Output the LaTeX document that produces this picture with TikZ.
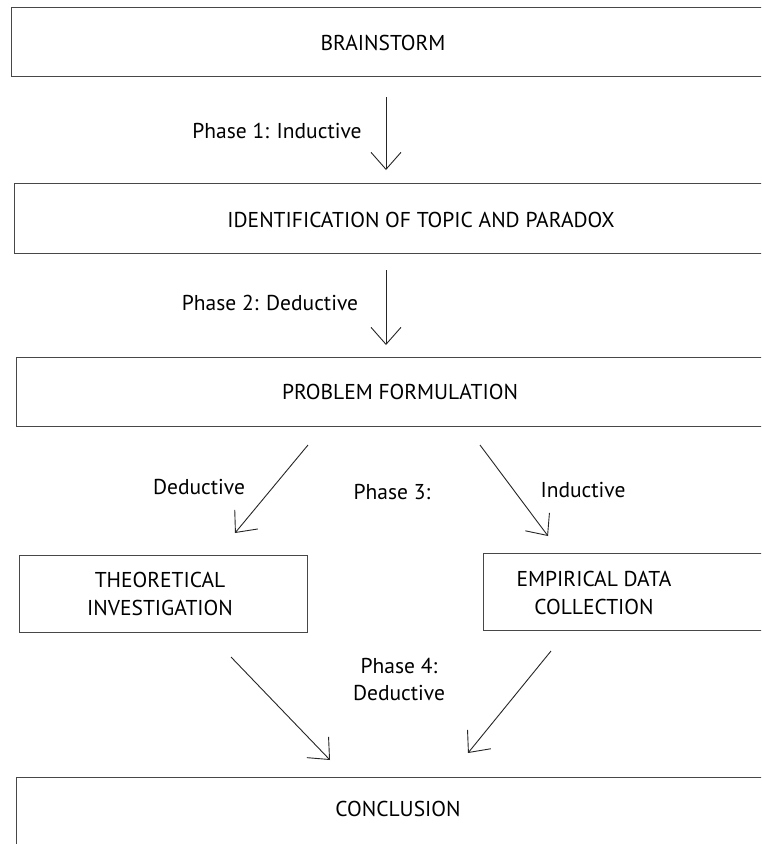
\documentclass[tikz,border=0pt]{standalone}
\usepackage{fontspec}
\setmainfont{PT Sans}
\usetikzlibrary{arrows.meta}
\begin{document}
\begin{tikzpicture}[x=1pt,y=-1pt,
  boxline/.style={draw=black!72,line width=1.3pt},
  mainbox/.style={boxline,rectangle,anchor=north west,inner sep=0pt},
  txt/.style={font=\fontsize{21.5}{28}\selectfont,inner sep=0pt,align=center},
  lbl/.style={font=\fontsize{21.5}{27}\selectfont,inner sep=0pt,align=center},
  flow/.style={draw=black!85,line width=0.9pt,-{Straight Barb[length=17,width=30,line width=0.9pt]}}]
\useasboundingbox (0,0) rectangle (761,844);
\clip (0,0) rectangle (761,844);
\fill[white] (0,0) rectangle (761,844);
% boxes
\node[mainbox,minimum width=800,minimum height=69] (b1) at (11,7) {};
\node[mainbox,minimum width=800,minimum height=70] (b2) at (14,183) {};
\node[mainbox,minimum width=800,minimum height=69] (b3) at (16,357) {};
\node[mainbox,minimum width=288,minimum height=77] (b4) at (19,555) {};
\node[mainbox,minimum width=320,minimum height=77] (b5) at (483,553) {};
\node[mainbox,minimum width=800,minimum height=100] (b6) at (16,777) {};
% box texts
\node[txt] (t1) at (383,43) {BRAINSTORM};
\node[txt] (t2) at (421,220) {IDENTIFICATION OF TOPIC AND PARADOX};
\node[txt] (t3) at (400,392) {PROBLEM FORMULATION};
\node[txt] (t4) at (160,594) {THEORETICAL\\INVESTIGATION};
\node[txt] (t5) at (594,593) {EMPIRICAL DATA\\COLLECTION};
\node[txt] (t6) at (398,809) {CONCLUSION};
% arrow endpoints
\coordinate (a1s) at (386,97);  \coordinate (a1e) at (386,170);
\coordinate (a2s) at (386,270); \coordinate (a2e) at (386,345);
\coordinate (a3s) at (308,445); \coordinate (a3e) at (235,533);
\coordinate (a4s) at (480,445); \coordinate (a4e) at (548,536);
\coordinate (a5s) at (231,657); \coordinate (a5e) at (330,760);
\coordinate (a6s) at (551,651); \coordinate (a6e) at (468,753);
\draw[flow] (a1s) -- (a1e);
\draw[flow] (a2s) -- (a2e);
\draw[flow] (a3s) -- (a3e);
\draw[flow] (a4s) -- (a4e);
\draw[flow] (a5s) -- (a5e);
\draw[flow] (a6s) -- (a6e);
% labels
\node[lbl] (l1) at (277,131) {Phase 1: Inductive};
\node[lbl] (l2) at (270,303) {Phase 2: Deductive};
\node[lbl] (l3) at (199,487) {Deductive};
\node[lbl] (l4) at (392,492) {Phase 3:};
\node[lbl] (l5) at (583,490) {Inductive};
\node[lbl] (l6) at (399,679) {Phase 4:\\Deductive};
\end{tikzpicture}
\end{document}
